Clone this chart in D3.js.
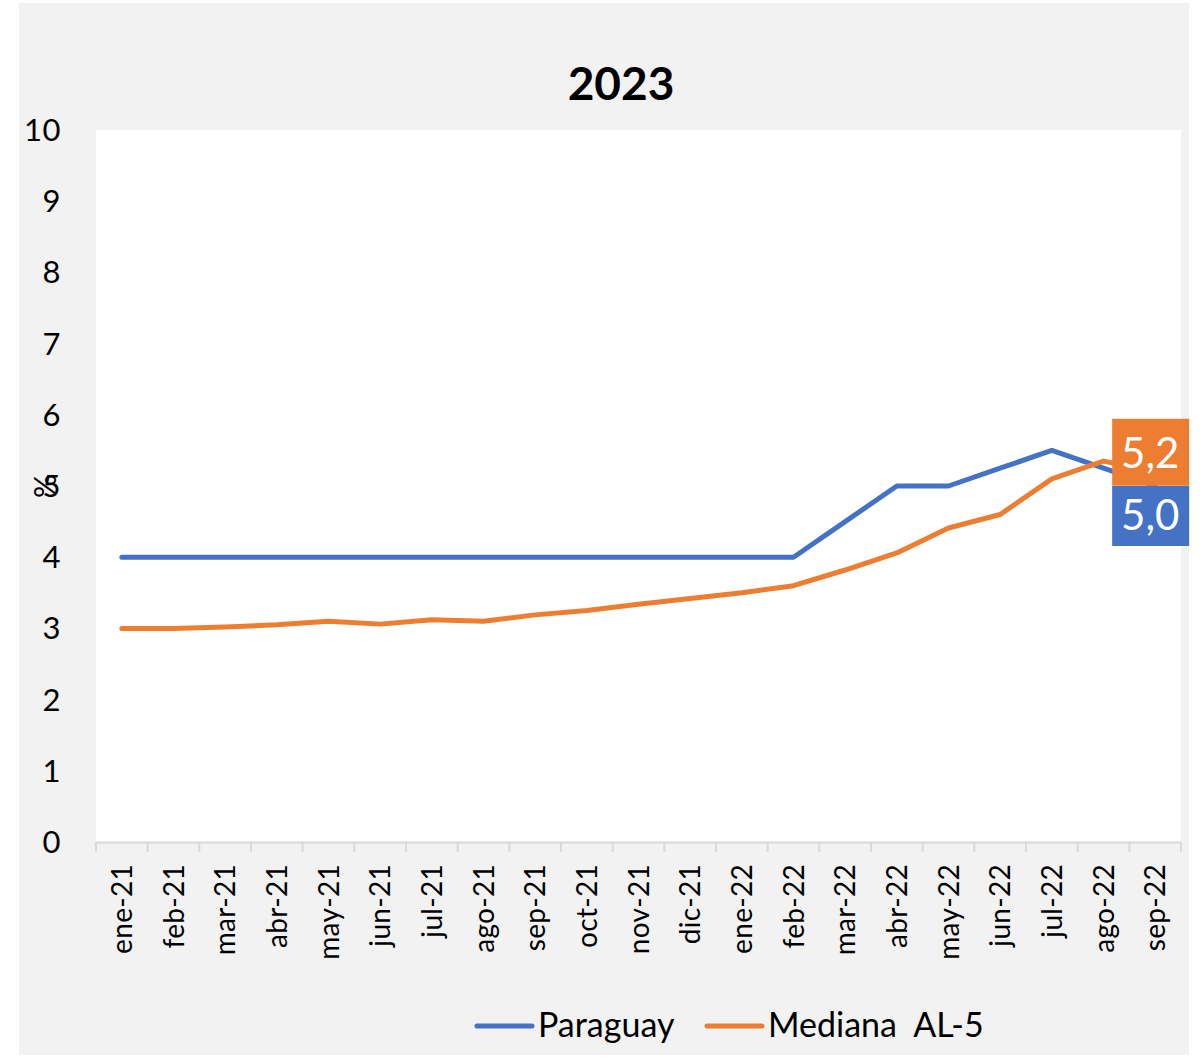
<!DOCTYPE html>
<html>
<head>
<meta charset="utf-8">
<script src="https://cdn.jsdelivr.net/npm/d3@7"></script>
<style>
    body { margin: 0; background: #ffffff; }
    svg text { font-family: Lato, "Open Sans", sans-serif; }
</style>
</head>
<body>
<svg id="chart"></svg>
<script>
'use strict';

/*
    Data
*/

const MONTHS = ['ene-21', 'feb-21', 'mar-21', 'abr-21', 'may-21', 'jun-21', 'jul-21',
                'ago-21', 'sep-21', 'oct-21', 'nov-21', 'dic-21', 'ene-22', 'feb-22',
                'mar-22', 'abr-22', 'may-22', 'jun-22', 'jul-22', 'ago-22', 'sep-22'];

const PARAGUAY = [4, 4, 4, 4, 4, 4, 4, 4, 4, 4, 4, 4, 4, 4,
                  4.5, 5, 5, 5.25, 5.5, 5.25, 5.0];

const MEDIANA = [3.0, 3.0, 3.02, 3.05, 3.1, 3.06, 3.12, 3.1, 3.19, 3.25, 3.34, 3.42, 3.5, 3.6,
                 3.82, 4.06, 4.41, 4.6, 5.1, 5.35, 5.2];

const Y_TICKS = [0, 1, 2, 3, 4, 5, 6, 7, 8, 9, 10];

const SERIES = [
    { name : 'Paraguay',      values : PARAGUAY, color : '#4472C4' },
    { name : 'Mediana  AL-5', values : MEDIANA,  color : '#ED7D31' }
];

/*
    Constants
*/

const WIDTH  = 1203;
const HEIGHT = 1057;

const PLOT = Object.freeze({
    LEFT   : 96,
    RIGHT  : 1181,
    TOP    : 130,
    BOTTOM : 842
});

const SVG = d3.select('#chart')
    .attr('width', WIDTH)
    .attr('height', HEIGHT);

let x = d3.scaleBand()
    .domain(MONTHS)
    .range([PLOT.LEFT, PLOT.RIGHT]);

let y = d3.scaleLinear()
    .domain([0, 10])
    .range([PLOT.BOTTOM, PLOT.TOP]);

const cx = m => x(m) + x.bandwidth() / 2;

// Background panels
SVG.append('rect')
    .attr('x', 19).attr('y', 3)
    .attr('width', 1170).attr('height', 1052)
    .attr('fill', '#f2f2f2');

SVG.append('rect')
    .attr('x', PLOT.LEFT).attr('y', PLOT.TOP)
    .attr('width', PLOT.RIGHT - PLOT.LEFT)
    .attr('height', PLOT.BOTTOM - PLOT.TOP)
    .attr('fill', '#ffffff');

// Title
SVG.append('text')
    .attr('x', 621).attr('y', 100)
    .attr('text-anchor', 'middle')
    .attr('font-size', 46)
    .attr('font-weight', 'bold')
    .text('2023');

// Y axis labels
SVG.append('g')
    .selectAll('text')
    .data(Y_TICKS)
    .join('text')
      .attr('x', 61)
      .attr('y', d => y(d) + 11)
      .attr('text-anchor', 'end')
      .attr('font-size', 31)
      .attr('letter-spacing', 0.5)
      .text(d => d);

SVG.append('text')
    .attr('transform', `translate(56, ${y(5)}) rotate(-90)`)
    .attr('text-anchor', 'middle')
    .attr('font-size', 30)
    .text('%');

// X axis
const xAxis = d3.axisBottom(x).tickSize(0).tickFormat('');
const axisG = SVG.append('g')
    .attr('transform', `translate(0, ${PLOT.BOTTOM})`)
    .call(xAxis);
axisG.select('.domain').attr('stroke', '#d9d9d9').attr('stroke-width', 2);

axisG.selectAll('line.cat-tick')
    .data(MONTHS.concat(['end']))
    .join('line')
      .attr('class', 'cat-tick')
      .attr('x1', (d, i) => i < MONTHS.length ? x(d) : x(MONTHS[MONTHS.length - 1]) + x.bandwidth())
      .attr('x2', (d, i) => i < MONTHS.length ? x(d) : x(MONTHS[MONTHS.length - 1]) + x.bandwidth())
      .attr('y1', 0).attr('y2', 10)
      .attr('stroke', '#d9d9d9')
      .attr('stroke-width', 2);

SVG.append('g')
    .selectAll('text')
    .data(MONTHS)
    .join('text')
      .attr('transform', d => `translate(${cx(d) + 10}, 864) rotate(-90)`)
      .attr('text-anchor', 'end')
      .attr('font-size', 28)
      .attr('letter-spacing', 0.3)
      .text(d => d);

// Lines
const line = d3.line()
    .x((d, i) => cx(MONTHS[i]))
    .y(d => y(d));

SVG.append('g')
    .selectAll('path')
    .data(SERIES)
    .join('path')
      .attr('d', d => line(d.values))
      .attr('fill', 'none')
      .attr('stroke', d => d.color)
      .attr('stroke-width', 5)
      .attr('stroke-linecap', 'round')
      .attr('stroke-linejoin', 'round');

// End labels
const LAST = MONTHS.length - 1;
const labelX = cx(MONTHS[LAST]) - 43;
const endLabels = [
    { value : MEDIANA[LAST],  color : '#ED7D31', top : y(MEDIANA[LAST]) - 53 },
    { value : PARAGUAY[LAST], color : '#4472C4', top : y(PARAGUAY[LAST]) }
];

const lbl = SVG.append('g')
    .selectAll('g')
    .data(endLabels)
    .join('g');

lbl.append('rect')
    .attr('x', labelX)
    .attr('y', d => d.top)
    .attr('width', 77)
    .attr('height', (d, i) => i === 0 ? 67 : 60)
    .attr('fill', d => d.color);

lbl.append('text')
    .attr('x', labelX + 38)
    .attr('y', (d, i) => d.top + (i === 0 ? 49 : 44))
    .attr('text-anchor', 'middle')
    .attr('font-size', 42)
    .attr('fill', '#ffffff')
    .text(d => d.value.toFixed(1).replace('.', ','));

// Legend
const LEGEND_POS = [477, 707];
const leg = SVG.append('g')
    .selectAll('g')
    .data(SERIES)
    .join('g')
      .attr('transform', (d, i) => `translate(${LEGEND_POS[i]}, 1026)`);

leg.append('line')
    .attr('x1', 0).attr('x2', 55)
    .attr('stroke', d => d.color)
    .attr('stroke-width', 5)
    .attr('stroke-linecap', 'round');

leg.append('text')
    .attr('x', 61)
    .attr('y', 11)
    .attr('font-size', 34)
    .attr('xml:space', 'preserve')
    .style('white-space', 'pre')
    .text(d => d.name);
</script>
</body>
</html>
